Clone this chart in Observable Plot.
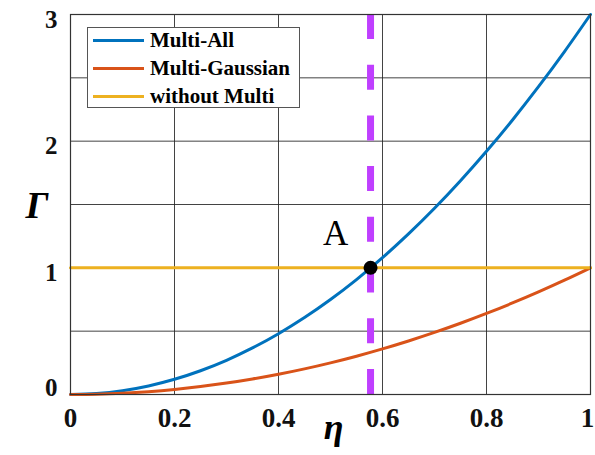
<!DOCTYPE html>
<html>
<head>
<meta charset="utf-8">
<script src="https://cdn.jsdelivr.net/npm/d3@7"></script>
<script src="https://cdn.jsdelivr.net/npm/@observablehq/plot@0.6"></script>
<style>
  html, body { margin: 0; padding: 0; background: #fff; }
  #wrap { position: relative; width: 595px; height: 455px; }
  #legend {
    position: absolute; left: 87px; top: 27px; width: 211px; height: 79px;
    border: 1px solid #555; background: #fff; box-sizing: content-box;
    font-family: "Liberation Serif", "Times New Roman", serif; font-weight: bold; font-size: 21px; color: #000;
  }
  .row { position: absolute; left: 0; height: 28px; display: flex; align-items: center; }
  .sw { width: 51px; height: 3px; margin-left: 5px; margin-right: 6px; }
</style>
</head>
<body>
<div id="wrap"><div id="legend"></div></div>
<script>
const eta = [0, 0.05, 0.1, 0.15, 0.2, 0.25, 0.3, 0.35, 0.4, 0.45, 0.5, 0.55, 0.6, 0.65, 0.7, 0.75, 0.8, 0.85, 0.9, 0.95, 1];
const multiAll = [0, 0.0075, 0.03, 0.0675, 0.12, 0.1875, 0.27, 0.3675, 0.48, 0.6075, 0.75, 0.9075, 1.08, 1.2675, 1.47, 1.6875, 1.92, 2.1675, 2.43, 2.7075, 3];
const multiGaussian = [0, 0.0025, 0.01, 0.0225, 0.04, 0.0625, 0.09, 0.1225, 0.16, 0.2025, 0.25, 0.3025, 0.36, 0.4225, 0.49, 0.5625, 0.64, 0.7225, 0.81, 0.9025, 1];
const etaFlat = [0, 1];
const withoutMulti = [1, 1];
const seriesNames = ["Multi-All", "Multi-Gaussian", "without Multi"];
const seriesColors = ["#0072BD", "#D95319", "#EDB120"];
const xTicks = [0, 0.2, 0.4, 0.6, 0.8, 1];
const yTicks = [0, 1, 2, 3];
const yGrid = [0.5, 1, 1.5, 2, 2.5];
const pointA = [{eta: 0.577, gamma: 1, label: "A"}];

const rows = [];
eta.forEach((e, i) => rows.push({eta: e, value: multiAll[i], series: seriesNames[0]}));
eta.forEach((e, i) => rows.push({eta: e, value: multiGaussian[i], series: seriesNames[1]}));
etaFlat.forEach((e, i) => rows.push({eta: e, value: withoutMulti[i], series: seriesNames[2]}));

const serif = "'Liberation Serif', 'Times New Roman', serif";
const xAxisOpts = {label: null, tickSize: 0, tickPadding: 13, tickFormat: d => String(d), fontSize: 27, fontWeight: "bold", fontFamily: serif, fill: "#111"};
const yAxisOpts = {label: null, tickSize: 0, tickPadding: 13, tickFormat: d => String(d), fontSize: 25, fontWeight: "bold", fontFamily: serif, fill: "#111"};

const chart = Plot.plot({
  width: 595,
  height: 455,
  marginLeft: 70,
  marginRight: 5,
  marginTop: 14,
  marginBottom: 61,
  style: {fontFamily: serif, fontWeight: "bold", fontSize: "24px", color: "#111", background: "#fff"},
  x: {domain: [0, 1], label: null},
  y: {domain: [0, 3], label: null},
  color: {domain: seriesNames, range: seriesColors},
  marks: [
    Plot.gridX(xTicks.slice(1, -1), {stroke: "#222", strokeOpacity: 0.85, strokeWidth: 1}),
    Plot.gridY(yGrid, {stroke: "#222", strokeOpacity: 0.85, strokeWidth: 1}),
    Plot.axisX(xTicks.slice(0, -1), xAxisOpts),
    Plot.axisX(xTicks.slice(-1), {...xAxisOpts, dx: -3}),
    Plot.axisY(yTicks.slice(1), {...yAxisOpts, dy: 5}),
    Plot.axisY(yTicks.slice(0, 1), {...yAxisOpts, dy: -7}),
    Plot.line(rows, {x: "eta", y: "value", z: "series", stroke: "series", strokeWidth: 3, curve: "catmull-rom"}),
    Plot.ruleX([pointA[0].eta], {stroke: "#BF3FFF", strokeWidth: 7, strokeDasharray: "25,25.7"}),
    Plot.dot(pointA, {x: "eta", y: "gamma", r: 7, fill: "#000", stroke: "none"}),
    Plot.text(pointA, {x: "eta", y: "gamma", text: "label", dx: -35, dy: -34, fontSize: 35, fontWeight: "normal", fontFamily: serif, fill: "#000"}),
    Plot.frame({stroke: "#333", strokeWidth: 1.2}),
    Plot.text(["Γ"], {frameAnchor: "left", dx: -45, dy: 1, fontSize: 38, fontStyle: "italic", fontWeight: "bold", fontFamily: serif, fill: "#000"}),
    Plot.text(["η"], {frameAnchor: "bottom", dx: 3, dy: 44, fontSize: 36, fontStyle: "italic", fontWeight: "bold", fontFamily: serif, fill: "#000"})
  ]
});
document.getElementById("wrap").prepend(chart);

const legend = document.getElementById("legend");
seriesNames.forEach((name, i) => {
  const r = document.createElement("div");
  r.className = "row";
  r.style.top = (i * 28 - 2) + "px";
  const sw = document.createElement("div");
  sw.className = "sw";
  sw.style.background = seriesColors[i];
  const t = document.createElement("span");
  t.textContent = name;
  r.appendChild(sw); r.appendChild(t);
  legend.appendChild(r);
});
</script>
</body>
</html>
